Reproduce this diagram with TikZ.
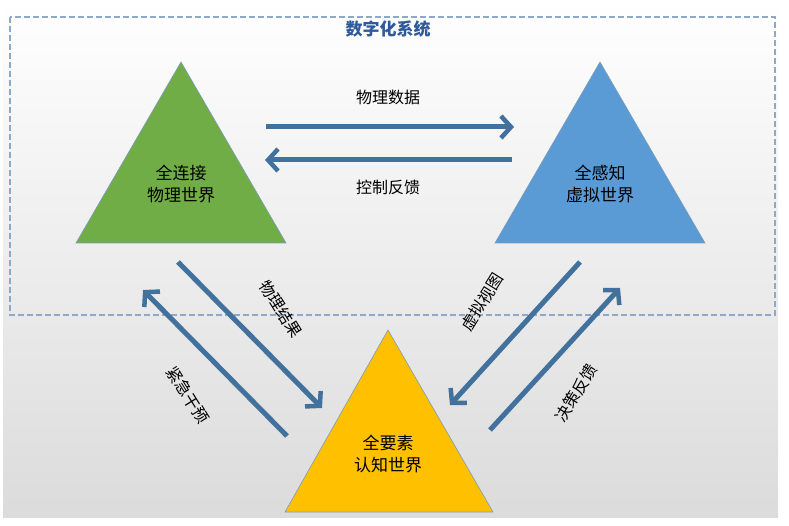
\documentclass[tikz,border=0pt]{standalone}
\usepackage{fontspec}
\newfontfamily\cjk{Noto Sans CJK SC}
\usetikzlibrary{arrows.meta}
\definecolor{arr}{HTML}{41719C}
\definecolor{gtri}{HTML}{70AD47}
\definecolor{btri}{HTML}{5B9BD5}
\definecolor{ytri}{HTML}{FFC000}
\definecolor{dashc}{HTML}{8EA9C8}
\definecolor{ttl}{HTML}{2E5A9A}
\begin{document}
\begin{tikzpicture}[x=1pt,y=-1pt,
  tri/.style={draw=arr!70,line width=0.6pt},
  conn/.style={draw=arr,line width=5pt,-{Straight Barb[length=10pt,width=22pt,line width=4.5pt]}},
  lbl/.style={font=\cjk\fontsize{16}{19}\selectfont,text=black,inner sep=0pt},
  tlbl/.style={font=\cjk\fontsize{17}{22}\selectfont,align=center,text=black}]
\useasboundingbox (0,0) rectangle (789,526);
\shade[top color=white,bottom color=black!14] (3,0) rectangle (778,517);
\draw[draw=dashc,line width=2pt,dash pattern=on 6pt off 3pt] (10,17) rectangle (775,315);
\node[font=\cjk\bfseries\fontsize{17}{20}\selectfont,text=ttl] (title) at (388,29) {数字化系统};
\filldraw[tri,fill=gtri] (181,62) -- (286,243) -- (76,243) -- cycle;
\filldraw[tri,fill=btri] (600,62) -- (705,243) -- (495,243) -- cycle;
\filldraw[tri,fill=ytri] (388,330) -- (493,512) -- (285,512) -- cycle;
\node[tlbl] (phys) at (181,184) {全连接\\物理世界};
\node[tlbl] (virt) at (600,184) {全感知\\虚拟世界};
\node[tlbl] (cogn) at (388,454) {全要素\\认知世界};
\coordinate (a1) at (266,127); \coordinate (a2) at (514,127);
\coordinate (b1) at (512,160); \coordinate (b2) at (265,160);
\coordinate (c1) at (178,262); \coordinate (c2) at (322,408);
\coordinate (d1) at (287,436); \coordinate (d2) at (143,290);
\coordinate (e1) at (580,262); \coordinate (e2) at (450,405);
\coordinate (f1) at (490,430); \coordinate (f2) at (620,288);
\draw[conn] (a1) -- (a2);
\draw[conn] (b1) -- (b2);
\draw[conn] (c1) -- (c2);
\draw[conn] (d1) -- (d2);
\draw[conn] (e1) -- (e2);
\draw[conn] (f1) -- (f2);
\node[lbl] (la) at (388,97) {物理数据};
\node[lbl] (lb) at (388,187) {控制反馈};
\node[lbl,rotate=-58] (lc) at (281,309) {物理结果};
\node[lbl,rotate=-58] (ld) at (188,395) {紧急干预};
\node[lbl,rotate=58] (le) at (482,302) {虚拟视图};
\node[lbl,rotate=58] (lf) at (576,393) {决策反馈};
\end{tikzpicture}
\end{document}
